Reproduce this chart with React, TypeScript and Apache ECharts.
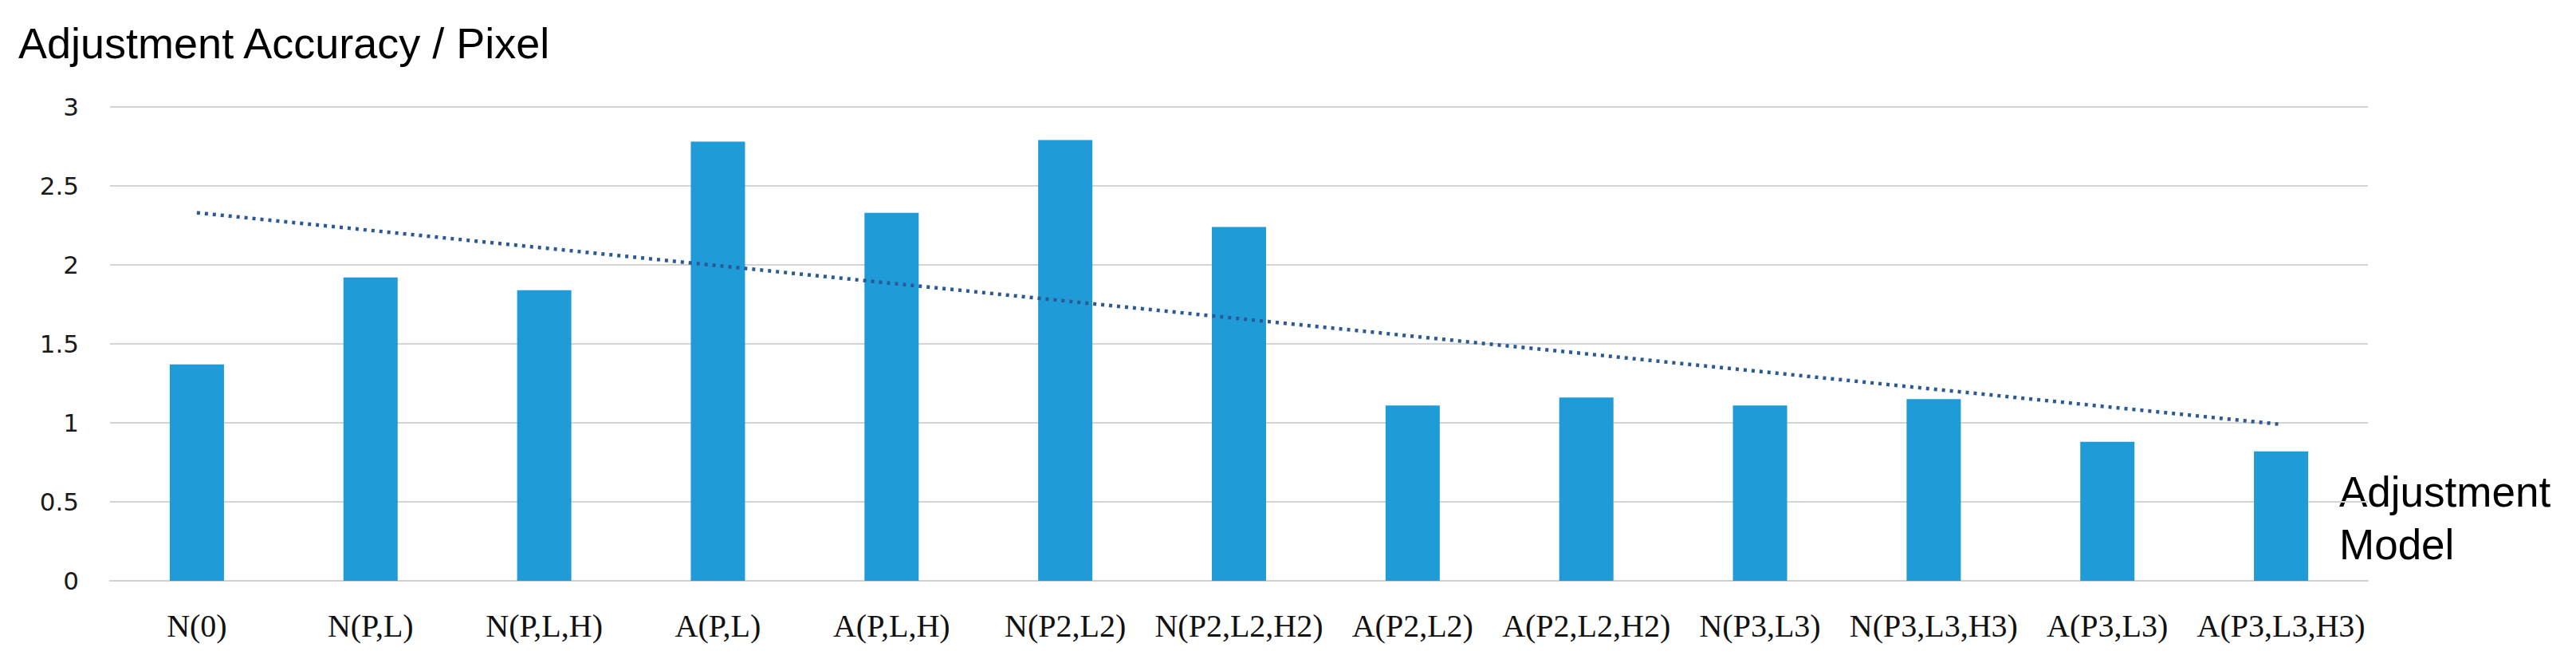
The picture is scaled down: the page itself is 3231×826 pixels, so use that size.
import React, { useEffect, useRef } from "react";
import * as echarts from "echarts";

const categories = [
  "N(0)",
  "N(P,L)",
  "N(P,L,H)",
  "A(P,L)",
  "A(P,L,H)",
  "N(P2,L2)",
  "N(P2,L2,H2)",
  "A(P2,L2)",
  "A(P2,L2,H2)",
  "N(P3,L3)",
  "N(P3,L3,H3)",
  "A(P3,L3)",
  "A(P3,L3,H3)",
];
const accuracy = [1.37, 1.92, 1.84, 2.78, 2.33, 2.79, 2.24, 1.11, 1.16, 1.11, 1.15, 0.88, 0.82];
const trendStart = 2.33;
const trendEnd = 0.99;
const yMin = 0;
const yMax = 3;
const yInterval = 0.5;
const yAxisTitle = "Adjustment Accuracy / Pixel";
const xAxisTitleLines = ["Adjustment", "Model"];

const W = 3231;
const H = 826;

export default function App() {
  const ref = useRef<HTMLDivElement>(null);
  useEffect(() => {
    if (!ref.current) return;
    const chart = echarts.init(ref.current, undefined, { renderer: "svg" });
    const sans = "'Liberation Sans', Arial, sans-serif";
    chart.setOption({
      animation: false,
      backgroundColor: "#ffffff",
      grid: { left: 138, right: 261, top: 134, bottom: 98, containLabel: false },
      xAxis: {
        type: "category",
        data: categories,
        boundaryGap: true,
        axisLine: { show: true, lineStyle: { color: "#d0d0d0", width: 2 } },
        axisTick: { show: false },
        axisLabel: {
          interval: 0,
          margin: 36,
          color: "#111111",
          fontFamily: "'Liberation Serif', 'Times New Roman', serif",
          fontSize: 40,
        },
      },
      yAxis: {
        type: "value",
        min: yMin,
        max: yMax,
        interval: yInterval,
        axisLine: { show: false },
        axisTick: { show: false },
        splitLine: { show: true, lineStyle: { color: "#d4d4d4", width: 2 } },
        axisLabel: {
          margin: 39,
          color: "#1a1a1a",
          fontFamily: "'DejaVu Sans', sans-serif",
          fontSize: 31,
        },
      },
      series: [
        {
          type: "bar",
          data: accuracy,
          barWidth: 68,
          itemStyle: { color: "#1F9BD7" },
        },
        {
          type: "line",
          data: [
            [categories[0], trendStart],
            [categories[categories.length - 1], trendEnd],
          ],
          symbol: "none",
          lineStyle: { color: "#2A5A96", width: 4.5, type: [4, 6] },
          z: 5,
        },
      ],
      graphic: [
        {
          type: "text",
          x: 23,
          y: 54,
          style: {
            text: yAxisTitle,
            fill: "#000000",
            font: `54px ${sans}`,
            textVerticalAlign: "middle",
          },
        },
        {
          type: "text",
          x: 2934,
          y: 616,
          style: {
            text: xAxisTitleLines[0],
            fill: "#000000",
            font: `53px ${sans}`,
            textVerticalAlign: "middle",
          },
        },
        {
          type: "text",
          x: 2934,
          y: 682,
          style: {
            text: xAxisTitleLines[1],
            fill: "#000000",
            font: `53px ${sans}`,
            textVerticalAlign: "middle",
          },
        },
      ],
    });
    return () => chart.dispose();
  }, []);
  return (
    <div
      ref={ref}
      style={{ position: "fixed", left: 0, top: 0, width: W, height: H, background: "#fff" }}
    />
  );
}
